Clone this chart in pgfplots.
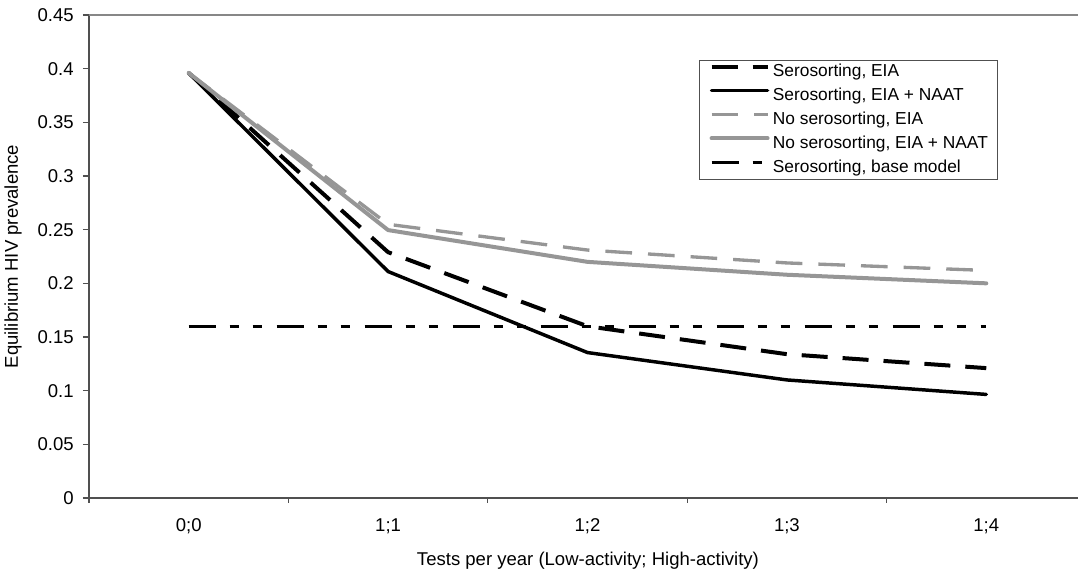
\documentclass[border=0pt]{standalone}
\usepackage{fontspec}
\setmainfont{Liberation Sans}
\usepackage{pgfplots}
\pgfplotsset{compat=1.18}
\usetikzlibrary{calc}
\definecolor{sergray}{RGB}{150,150,150}
\definecolor{axgray}{RGB}{80,80,80}
\definecolor{topgray}{RGB}{135,135,135}
\newcommand{\lblfont}{\fontsize{13.9}{16}\selectfont}
\begin{document}
\begin{tikzpicture}
\begin{axis}[name=ax, at={(0,0)}, anchor=south west,
  scale only axis, width=741.75pt, height=362.25pt,
  xmin=-0.5, xmax=4.46, ymin=0, ymax=0.45,
  axis x line*=bottom, axis y line*=left,
  axis line style={-, draw=axgray, line width=1.1pt},
  xtick={0,1,2,3,4}, xticklabels={0;0,1;1,1;2,1;3,1;4},
  minor xtick={-0.5,0.5,1.5,2.5,3.5},
  ytick={0,0.05,0.1,0.15,0.2,0.25,0.3,0.35,0.4,0.45},
  tick align=outside, major tick length=4.5pt, minor tick length=3.75pt,
  major x tick style={draw=none},
  tick style={draw=axgray, line width=0.8pt},
  tick label style={font=\lblfont},
  xticklabel style={yshift=-7.5pt},
  yticklabel style={xshift=-3.5pt, /pgf/number format/fixed, /pgf/number format/precision=2,
    /pgf/number format/assume math mode=true},
  xlabel={Tests per year (Low-activity; High-activity)},
  xlabel style={at={(axis description cs:0.5045,-0.13)}, anchor=center, font=\lblfont},
  ylabel={Equilibrium HIV prevalence},
  ylabel style={at={(axis description cs:-0.0768,0.5)}, anchor=center, font=\lblfont},
  legend style={at={(axis description cs:0.6168,0.9068)}, anchor=north west,
    draw=axgray, line width=0.8pt, font=\fontsize{13}{15}\selectfont,
    inner xsep=7.5pt, inner ysep=2.5pt, row sep=5.6pt,
    nodes={inner sep=0pt, text height=9.5pt, text depth=2.8pt},
    /tikz/every odd column/.append style={column sep=2.5pt}},
  legend cell align=left,
  legend image code/.code={\draw[#1] (0pt,4pt) -- (42pt,4pt);},
]
\addplot[black, line width=3pt, dash pattern=on 19.5pt off 11.25pt]
  coordinates {(0,0.396)(1,0.229)(2,0.160)(3,0.134)(4,0.121)};
\addlegendentry{Serosorting, EIA}
\addplot[black, line width=2.6pt, line cap=round, line join=round]
  coordinates {(0,0.396)(1,0.211)(2,0.1355)(3,0.110)(4,0.0965)};
\addlegendentry{Serosorting, EIA + NAAT}
\addplot[sergray, line width=2.5pt, dash pattern=on 20pt off 12pt]
  coordinates {(0,0.396)(1,0.255)(2,0.231)(3,0.219)(4,0.212)};
\addlegendentry{No serosorting, EIA}
\addplot[sergray, line width=3pt, line cap=round, line join=round]
  coordinates {(0,0.396)(1,0.2496)(2,0.220)(3,0.208)(4,0.200)};
\addlegendentry{No serosorting, EIA + NAAT}
\addplot[black, line width=2.2pt,
  dash pattern=on 20.25pt off 10.5pt on 6.75pt off 10.5pt on 6.75pt off 11.25pt]
  coordinates {(0,0.16)(1,0.16)(2,0.16)(3,0.16)(4,0.16)};
\addlegendentry{Serosorting, base model}
\draw[topgray, line width=1pt] (rel axis cs:0,1) -- (rel axis cs:1,1);
\end{axis}
\pgfresetboundingbox
\path[use as bounding box] ($(ax.south west)+(-66.75pt,-57pt)$) rectangle ($(ax.north east)+(0pt,11.25pt)$);
\end{tikzpicture}
\end{document}
